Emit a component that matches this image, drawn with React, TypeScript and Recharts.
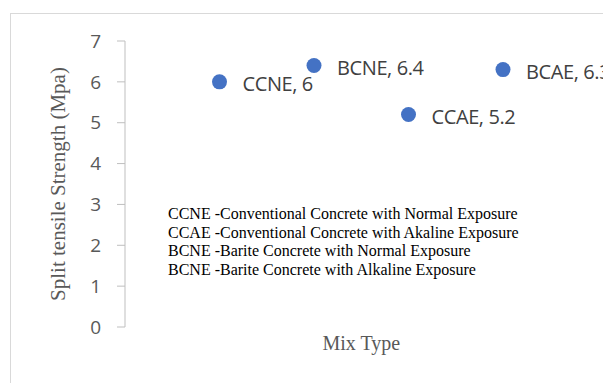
import { ScatterChart, Scatter, XAxis, YAxis, LabelList, Label } from "recharts";

const mixTypes = ["CCNE", "BCNE", "CCAE", "BCAE"];
const mixPositions = [1, 2, 3, 4];
const splitStrength = [6, 6.4, 5.2, 6.3];
const yTicks = [0, 1, 2, 3, 4, 5, 6, 7];
const notes = [
  "CCNE -Conventional Concrete with Normal Exposure",
  "CCAE -Conventional Concrete with Akaline Exposure",
  "BCNE -Barite Concrete with Normal Exposure",
  "BCNE -Barite Concrete with Alkaline Exposure",
];

const data = mixTypes.map((name, i) => ({
  name,
  x: mixPositions[i],
  y: splitStrength[i],
  label: `${name}, ${splitStrength[i]}`,
}));

const sans = "'Open Sans', 'Noto Sans', sans-serif";
const serif = "'Liberation Serif', 'DejaVu Serif', serif";

function Dot(props: any) {
  return <circle cx={props.cx} cy={props.cy} r={7.5} fill="#4472C4" />;
}

function PointLabel(props: any) {
  const { x, y, width, height, value } = props;
  const cx = x + width / 2;
  const cy = y + height / 2;
  return (
    <text
      x={cx + 23}
      y={cy + 2}
      dominantBaseline="central"
      fill="#404040"
      fontSize={20}
      letterSpacing={-0.4}
      fontFamily={sans}
    >
      {value}
    </text>
  );
}

export default function App() {
  return (
    <div style={{ position: "relative", width: 603, height: 375, overflow: "hidden" }}>
      <div
        style={{
          position: "absolute",
          left: 2,
          top: 5,
          width: 700,
          height: 500,
          border: "1px solid #D9D9D9",
        }}
      />
      <ScatterChart
        width={603}
        height={375}
        margin={{ top: 33, right: 13.5, bottom: 0, left: 0 }}
        style={{ position: "absolute", left: 0, top: 0 }}
      >
        <XAxis
          type="number"
          dataKey="x"
          domain={[0, 5]}
          axisLine={false}
          tickLine={false}
          tick={false}
          height={56}
        >
          <Label
            content={(p: any) => (
              <text
                x={p.viewBox.x + p.viewBox.width / 2}
                y={p.viewBox.y + 23}
                textAnchor="middle"
                fill="#595959"
                fontSize={20}
                fontFamily={serif}
              >
                Mix Type
              </text>
            )}
          />
        </XAxis>
        <YAxis
          type="number"
          dataKey="y"
          domain={[0, 7]}
          ticks={yTicks}
          width={117}
          axisLine={{ stroke: "#BFBFBF" }}
          tickLine={{ stroke: "#BFBFBF" }}
          tickSize={8}
          tickMargin={16}
          tick={{ fill: "#595959", fontSize: 19, fontFamily: sans }}
        >
          <Label
            content={(p: any) => {
              const cx = 50;
              const cy = p.viewBox.y + p.viewBox.height / 2;
              return (
                <text
                  x={cx}
                  y={cy}
                  transform={`rotate(-90 ${cx} ${cy})`}
                  textAnchor="middle"
                  dominantBaseline="central"
                  fill="#595959"
                  fontSize={21}
                  fontFamily={serif}
                >
                  Split tensile Strength (Mpa)
                </text>
              );
            }}
          />
        </YAxis>
        <Scatter data={data} shape={<Dot />} isAnimationActive={false}>
          <LabelList dataKey="label" content={<PointLabel />} />
        </Scatter>
      </ScatterChart>
      <div
        style={{
          position: "absolute",
          left: 160,
          top: 197,
          fontFamily: serif,
          fontSize: 16,
          lineHeight: "18.6px",
          color: "#000",
          whiteSpace: "nowrap",
        }}
      >
        {notes.map((n) => (
          <div key={n}>{n}</div>
        ))}
      </div>
    </div>
  );
}
